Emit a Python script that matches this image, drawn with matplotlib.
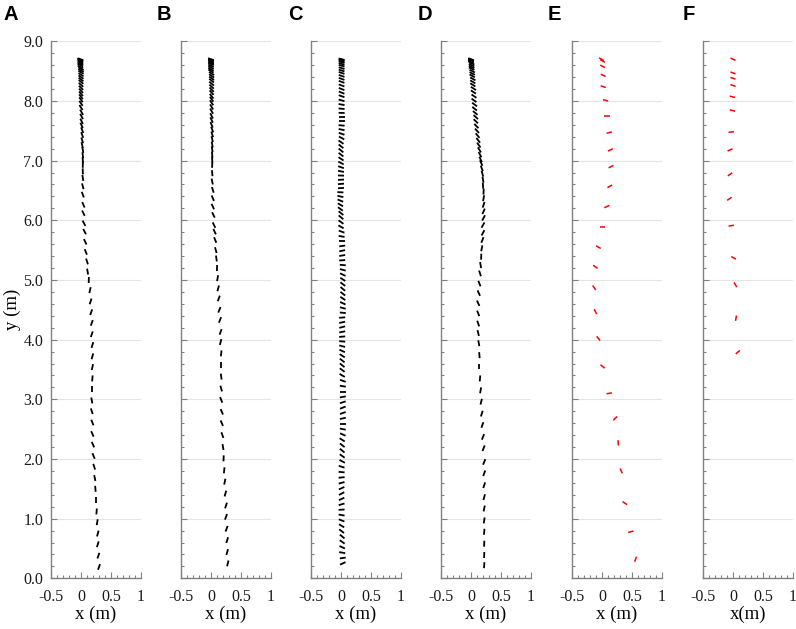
import numpy as np
import matplotlib
matplotlib.use('Agg')
import matplotlib.pyplot as plt
from matplotlib.collections import LineCollection
from matplotlib.ticker import MultipleLocator

plt.rcParams['font.family'] = ['Liberation Serif', 'DejaVu Serif']

# ---- panel A: segment centre y, centre x (m) and tilt angle (deg) ----
a_y = [8.70, 8.69, 8.68, 8.66, 8.64, 8.62, 8.60, 8.57, 8.54, 8.51, 8.48, 8.44, 8.40, 8.36,
       8.32, 8.27, 8.22, 8.17, 8.12, 8.07, 8.02,
       7.96, 7.89, 7.81, 7.74, 7.66, 7.59, 7.51, 7.43, 7.34, 7.26, 7.18, 7.09, 7.01,
       6.93, 6.82, 6.71, 6.57, 6.43, 6.26, 6.12,
       5.95, 5.81, 5.64, 5.47, 5.31, 5.14, 5.00,
       4.83, 4.64, 4.46,
       4.28, 4.09, 3.91, 3.72, 3.54, 3.35, 3.17, 2.98, 2.80, 2.61, 2.42, 2.24, 2.05, 1.87,
       1.68, 1.50, 1.31, 1.12, 0.94, 0.75, 0.57, 0.38, 0.19]
a_x = [-0.01, -0.01, -0.01, -0.01, -0.01, -0.01, -0.01, -0.01, 0.00, 0.00, 0.00, 0.00, 0.00, 0.00,
       0.00, 0.00, 0.00, 0.00, 0.00, 0.00, 0.00,
       0.00, 0.00, 0.01, 0.01, 0.01, 0.01, 0.02, 0.02, 0.02, 0.02, 0.03, 0.03, 0.03,
       0.03, 0.03, 0.03, 0.03, 0.03, 0.04, 0.04,
       0.05, 0.06, 0.07, 0.08, 0.10, 0.11, 0.13,
       0.15, 0.16, 0.17,
       0.18, 0.18, 0.19, 0.19, 0.19, 0.19, 0.19, 0.18, 0.18, 0.19, 0.19, 0.20, 0.21, 0.22,
       0.23, 0.24, 0.25, 0.26, 0.27, 0.28, 0.28, 0.29, 0.30]
a_ang = [-20, -20, -20, -21, -22, -23, -24, -25, -27, -29, -31, -33, -35, -37,
         -40, -42, -45, -48, -50, -53, -55,
         -56, -58, -60, -62, -64, -66, -68, -70, -73, -76, -79, -82, -85,
         89, -88, -82, -75, -70, -66, -64,
         -63, -63, -65, -68, -72, -80, 88,
         78, 72, 70,
         70, 70, 72, 75, 78, 85, 90, -80, -72, -68, -66, -66, -68, -72,
         -78, -85, 90, 86, 80, 75, 72, 70, 70]

# ---- panel B ----
b_y = [8.70, 8.69, 8.68, 8.66, 8.64, 8.62, 8.59, 8.56, 8.53, 8.50, 8.46, 8.42, 8.38, 8.34,
       8.29, 8.24, 8.19, 8.14, 8.08, 8.03,
       7.97, 7.90, 7.83, 7.75, 7.68, 7.60, 7.52, 7.44, 7.36, 7.27, 7.19, 7.10, 7.02,
       6.93, 6.79, 6.65, 6.51, 6.37, 6.23, 6.09, 5.92,
       5.81, 5.67, 5.50, 5.36, 5.20, 5.03,
       4.86, 4.69, 4.50, 4.33, 4.13,
       3.96, 3.77, 3.57, 3.38, 3.18,
       2.99, 2.79, 2.60, 2.40, 2.20,
       2.01, 1.81, 1.62, 1.42, 1.22,
       1.03, 0.83, 0.64, 0.44, 0.25]
b_x = [0.00, 0.00, 0.00, 0.00, 0.00, 0.00, 0.00, 0.00, 0.00, 0.00, 0.01, 0.01, 0.01, 0.01,
       0.01, 0.01, 0.01, 0.01, 0.01, 0.01,
       0.01, 0.01, 0.01, 0.01, 0.01, 0.01, 0.02, 0.02, 0.02, 0.02, 0.02, 0.02, 0.02,
       0.02, 0.02, 0.02, 0.03, 0.03, 0.03, 0.04, 0.05,
       0.06, 0.07, 0.08, 0.09, 0.10, 0.11,
       0.12, 0.13, 0.14, 0.15, 0.16,
       0.16, 0.17, 0.17, 0.17, 0.17,
       0.17, 0.18, 0.18, 0.19, 0.20,
       0.21, 0.22, 0.23, 0.24, 0.25,
       0.25, 0.26, 0.27, 0.27, 0.28]
b_ang = [-20, -20, -20, -21, -22, -23, -24, -26, -28, -30, -32, -34, -36, -38,
         -40, -43, -46, -49, -52, -55,
         -57, -59, -61, -63, -65, -67, -70, -73, -76, -79, -82, -85, -88,
         88, -85, -78, -72, -68, -65, -64, -64,
         -65, -68, -74, -82, 88, 80,
         74, 70, 68, 68, 70,
         76, 84, 90, -82, -74,
         -68, -66, -66, -70, -80,
         88, 84, 78, 74, 72,
         70, 70, 72, 74, 76]

# ---- panel C ----
c_y = [8.70, 8.69, 8.67, 8.65, 8.62, 8.59, 8.55, 8.51, 8.47, 8.42, 8.37, 8.32, 8.26, 8.20, 8.14,
       8.08, 8.01, 7.94, 7.87, 7.80, 7.73, 7.66, 7.59, 7.52, 7.45, 7.38, 7.31, 7.24, 7.17, 7.10,
       7.03, 6.96, 6.89, 6.82, 6.75, 6.68, 6.61, 6.54, 6.47, 6.40, 6.33, 6.26, 6.19, 6.12, 6.05,
       5.97, 5.89, 5.81, 5.73, 5.65, 5.57, 5.49, 5.41, 5.33, 5.25, 5.17, 5.09, 5.01, 4.93, 4.85,
       4.77, 4.69, 4.61, 4.53, 4.45, 4.37, 4.29, 4.21, 4.13, 4.05, 3.97, 3.89, 3.81, 3.73, 3.65,
       3.57, 3.49,
       3.40, 3.31, 3.22, 3.13, 3.04, 2.95, 2.86, 2.77, 2.68, 2.59, 2.50, 2.41, 2.32, 2.23, 2.14,
       2.05, 1.96, 1.87, 1.78, 1.69, 1.60, 1.51, 1.42, 1.33, 1.24, 1.15, 1.06, 0.97, 0.88, 0.79,
       0.70, 0.61, 0.52, 0.43, 0.34, 0.25]
c_x = [0.01, 0.01, 0.01, 0.01, 0.01, 0.01, 0.01, 0.01, 0.01, 0.01, 0.01, 0.01, 0.01, 0.01, 0.01,
       0.01, 0.01, 0.01, 0.01, 0.01, 0.01, 0.01, 0.01, 0.01, 0.01, 0.01, 0.00, 0.00, 0.00, 0.00,
       0.00, 0.00, 0.00, 0.00, 0.00, 0.00, 0.00, 0.00, -0.01, -0.01, -0.01, -0.01, -0.01, 0.00, 0.00,
       0.00, 0.00, 0.01, 0.01, 0.01, 0.02, 0.02, 0.02, 0.02, 0.03, 0.03, 0.03, 0.03, 0.03, 0.03,
       0.03, 0.03, 0.03, 0.03, 0.03, 0.02, 0.02, 0.02, 0.02, 0.02, 0.02, 0.02, 0.02, 0.02, 0.02,
       0.02, 0.02,
       0.02, 0.03, 0.03, 0.03, 0.03, 0.03, 0.03, 0.03, 0.03, 0.03, 0.03, 0.03, 0.02, 0.02, 0.02,
       0.02, 0.02, 0.01, 0.01, 0.01, 0.01, 0.01, 0.01, 0.01, 0.01, 0.01, 0.01, 0.01, 0.01, 0.01,
       0.02, 0.02, 0.02, 0.02, 0.03, 0.03]
c_ang = [-15, -15, -16, -16, -17, -17, -18, -18, -19, -19, -20, -20, -21, -22, -22,
         -20, -15, -10, -5, -2, 0, 0, -5, -12, -20, -28, -35, -38, -40, -38,
         -34, -28, -20, -10, -2, 3, 5, 3, -3, -12, -22, -30, -36, -40, -40,
         -36, -30, -20, -10, 0, 8, 12, 10, 4, -5, -15, -25, -33, -38, -40,
         -38, -33, -25, -15, -5, 5, 12, 15, 12, 5, -5, -15, -25, -33, -38,
         -40, -37,
         -30, -20, -10, 0, 10, 18, 22, 20, 12, 0, -12, -24, -33, -38, -40,
         -36, -28, -18, -6, 6, 16, 24, 28, 25, 16, 4, -10, -22, -32, -38,
         -40, -35, -25, -10, 8, 25]

# ---- panel D ----
d_y = [8.70, 8.69, 8.67, 8.65, 8.63, 8.60, 8.57, 8.54, 8.50, 8.46, 8.42, 8.37, 8.32, 8.27, 8.21,
       8.15, 8.08, 8.01, 7.94, 7.87, 7.80, 7.73, 7.66, 7.58, 7.50, 7.42, 7.34, 7.26, 7.18, 7.10, 7.02,
       6.96, 6.87, 6.78, 6.68, 6.58, 6.48, 6.37, 6.26, 6.15, 6.04,
       5.92, 5.79, 5.67, 5.53, 5.39, 5.25, 5.11,
       4.94, 4.78, 4.61, 4.44, 4.27, 4.11,
       3.94, 3.74, 3.55, 3.35, 3.15,
       2.96, 2.76, 2.57, 2.37, 2.18,
       1.95, 1.76, 1.56, 1.36, 1.17,
       0.97, 0.78, 0.58, 0.39, 0.22]
d_x = [0.00, 0.00, 0.00, 0.00, 0.01, 0.01, 0.01, 0.01, 0.02, 0.02, 0.02, 0.03, 0.03, 0.03, 0.04,
       0.04, 0.05, 0.05, 0.06, 0.06, 0.07, 0.08, 0.08, 0.09, 0.10, 0.11, 0.12, 0.13, 0.14, 0.15, 0.16,
       0.17, 0.18, 0.19, 0.20, 0.20, 0.21, 0.21, 0.21, 0.21, 0.21,
       0.20, 0.20, 0.19, 0.18, 0.17, 0.16, 0.15,
       0.14, 0.13, 0.12, 0.12, 0.12, 0.12,
       0.13, 0.14, 0.14, 0.15, 0.16,
       0.17, 0.18, 0.19, 0.20, 0.21,
       0.22, 0.22, 0.22, 0.22, 0.22,
       0.22, 0.22, 0.22, 0.22, 0.22]
d_ang = [-20, -20, -21, -22, -23, -24, -25, -26, -27, -28, -29, -30, -31, -32, -33,
         -34, -35, -36, -37, -38, -40, -42, -44, -46, -48, -50, -52, -55, -58, -62, -66,
         -66, -70, -74, -80, -86, 88, 80, 72, 66, 62,
         60, 62, 68, 78, 88, -80, -72,
         -68, -66, -66, -68, -72, -76,
         -80, -85, 90, 85, 80,
         76, 72, 70, 68, 68,
         68, 70, 72, 75, 78,
         82, 85, 88, 88, 86]

# ---- panel E (red) ----
e_y = [8.70, 8.67, 8.58, 8.43, 8.24, 8.01, 7.74, 7.47, 7.18, 6.90, 6.57, 6.23, 5.88,
       5.55, 5.22, 4.87, 4.47, 4.02, 3.55, 3.10, 2.68, 2.27, 1.80, 1.26, 0.78, 0.32]
e_x = [-0.01, 0.01, 0.01, 0.02, 0.02, 0.06, 0.08, 0.12, 0.14, 0.15, 0.13, 0.08, 0.01,
       -0.06, -0.11, -0.13, -0.11, -0.06, 0.01, 0.12, 0.22, 0.27, 0.32, 0.38, 0.48, 0.56]
e_ang = [-30, -30, -28, -25, -20, -15, 0, 15, 25, 28, 30, 25, 0,
         -30, -35, -55, -62, -52, -40, 10, 45, 95, -65, -35, 15, 70]

# ---- panel F (red) ----
f_y = [8.70, 8.47, 8.38, 8.26, 8.07, 7.84, 7.48, 7.18, 6.77, 6.36, 5.91, 5.37, 4.92, 4.36, 3.79]
f_x = [0.00, 0.00, 0.00, 0.00, -0.01, -0.01, -0.03, -0.05, -0.05, -0.06, -0.03, 0.01, 0.04, 0.05, 0.08]
f_ang = [-25, -20, -20, -18, -15, -12, 5, 25, 35, 35, 10, -30, -60, 80, 40]

panels = [
    ('A', a_x, a_y, a_ang, 'black', 'x (m)'),
    ('B', b_x, b_y, b_ang, 'black', 'x (m)'),
    ('C', c_x, c_y, c_ang, 'black', 'x (m)'),
    ('D', d_x, d_y, d_ang, 'black', 'x (m)'),
    ('E', e_x, e_y, e_ang, 'red', 'x (m)'),
    ('F', f_x, f_y, f_ang, 'red', 'x(m)'),
]

W, H = 796, 629
fig = plt.figure(figsize=(W / 100, H / 100), dpi=100)

ax_left = [51, 181, 311, 441, 572, 703]
letter_x = [3, 157, 288, 418, 548, 683]
gray = '#808080'

for i, (letter, xs, ys, ang, col, xlab) in enumerate(panels):
    ax = fig.add_axes([ax_left[i] / W, (H - 578.3) / H, 90 / W, 537 / H])
    xs = np.array(xs); ys = np.array(ys); th = np.deg2rad(ang)
    seg_len = 0.1 if col == 'black' else 0.09
    dx = 0.5 * seg_len * np.cos(th)
    dy = 0.5 * seg_len * np.sin(th)
    segs = np.stack([np.column_stack([xs - dx, ys - dy]),
                     np.column_stack([xs + dx, ys + dy])], axis=1)
    lw = 1.3 if col == 'black' else 1.1
    ax.add_collection(LineCollection(segs, colors=col, linewidths=lw, capstyle='butt'))

    ax.set_xlim(-0.5, 1)
    ax.set_ylim(0, 9)
    ax.set_xticks([-0.5, 0, 0.5, 1])
    ax.set_xticklabels(['-0.5', '0', '0.5', '1'])
    ax.xaxis.set_minor_locator(MultipleLocator(0.1))
    ax.set_yticks(range(10))
    ax.yaxis.set_minor_locator(MultipleLocator(0.2))
    if i == 0:
        ax.set_yticklabels([f'{v:.1f}' for v in range(10)])
        ax.set_ylabel('y (m)', fontsize=13.5, labelpad=2)
    else:
        ax.set_yticklabels([])
    ax.tick_params(which='both', direction='in', color=gray, width=0.8,
                   labelsize=11.5, labelcolor='#1a1a1a')
    ax.tick_params(axis='x', which='major', pad=8)
    ax.tick_params(axis='y', which='major', pad=5.5)
    ax.tick_params(which='major', length=4.5)
    ax.tick_params(which='minor', length=2.5)
    ax.set_xlabel(xlab, fontsize=13.5, labelpad=0)
    ax.grid(axis='y', which='major', color='#e4e4e4', linewidth=0.8)
    ax.set_axisbelow(True)
    for s in ['top', 'right']:
        ax.spines[s].set_visible(False)
    for s in ['left', 'bottom']:
        ax.spines[s].set_color(gray)
        ax.spines[s].set_linewidth(1.0)

    fig.text(letter_x[i] / W, 1 - 5 / H, letter, fontsize=14.5, fontweight='bold',
             family='Liberation Sans', ha='left', va='top')

fig.savefig('out.png', dpi=100)
